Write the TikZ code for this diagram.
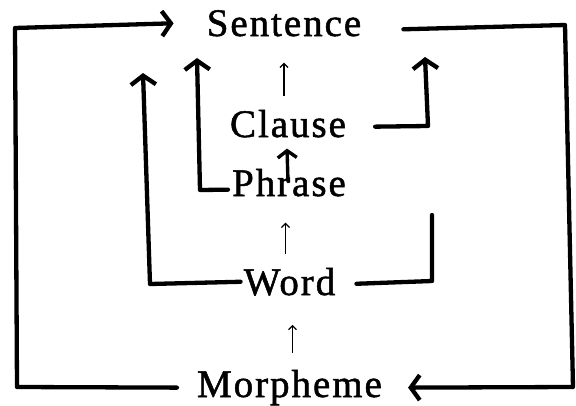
\documentclass[tikz,border=0pt]{standalone}
\usepackage{fontspec}
\setmainfont{Liberation Serif}[LetterSpace=5,FakeBold=1.3]
\usetikzlibrary{arrows.meta}
\begin{document}
\begin{tikzpicture}[x=1pt,y=-1pt,
  level/.style={font=\fontsize{39}{41}\selectfont, inner sep=0pt, anchor=base},
  link/.style={line width=4.3pt, line cap=round, line join=round},
  linkarrow/.style={link, -{Straight Barb[length=9pt,width=25pt]}},
  shortarrow/.style={line width=3.4pt, line cap=round, -{Straight Barb[length=7pt,width=19pt]}},
  rise/.style={line width=1.3pt, -{Straight Barb[length=4pt,width=8pt]}}]
\useasboundingbox (0,0) rectangle (576,405);

% the five levels
\node[level] (S) at (284,36)  {Sentence};
\node[level] (C) at (288,137) {Clause};
\node[level] (P) at (289,196) {Phrase};
\node[level] (W) at (289.5,295) {Word};
\node[level] (M) at (289.5,397) {Morpheme};

% thin arrows between neighbouring levels
\draw[rise, shorten <=14pt, shorten >=26pt] (S.south |- C.north) -- (S.south);
\draw[rise, shorten <=14pt, shorten >=26pt] ([xshift=-4pt]W.north) -- ([xshift=-4pt]W.north |- P.south);
\draw[rise, shorten <=17pt, shorten >=29pt] ([xshift=3pt]M.north) -- ([xshift=3pt]M.north |- W.south);

% short bold arrow from Phrase up to Clause
\draw[shortarrow] ([xshift=-1pt,yshift=-13pt]P.north) -- ([xshift=-1pt,yshift=-11pt]C.south);

% outer loop: Morpheme round the left to Sentence
\draw[linkarrow] ([xshift=-20pt]M.west) -- (17,387) -- (15,28) -- ([xshift=-33pt]S.west);

% outer loop: Sentence round the right to Morpheme
\draw[linkarrow] ([xshift=42pt,yshift=-6pt]S.east) -- (565,25) -- (573,387) -- ([xshift=26pt]M.east);

% Word up the left side
\draw[linkarrow] ([xshift=-3pt]W.west) -- (150,284) -- (143,73);

% Phrase up to Sentence
\draw[linkarrow] ([xshift=-4pt,yshift=-7pt]P.west) -- (200,190) -- (197,58);

% Clause up to Sentence
\draw[linkarrow] ([xshift=29pt,yshift=-3pt]C.east) -- (428,126) -- (425,57);

% Word right branch, open at the top
\draw[link] ([xshift=21pt,yshift=-2pt]W.east) -- (432,281) -- (432,215);
\end{tikzpicture}
\end{document}
